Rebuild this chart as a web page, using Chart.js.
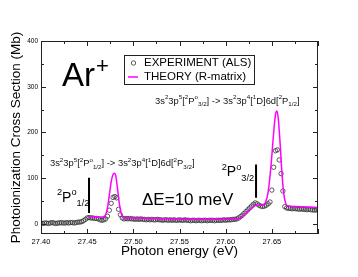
<!DOCTYPE html>
<html>
<head>
<meta charset="utf-8">
<script src="https://cdn.jsdelivr.net/npm/chart.js@4.4.1/dist/chart.umd.min.js"></script>
<style>
  body { margin: 0; background: #fff; }
  canvas { display: block; }
</style>
</head>
<body>
<canvas id="chart" width="358" height="277"></canvas>
<script>
// experiment (ALS): energy scan from 27.400 eV in 2 meV steps
const expStart = 27.400;
const expStep = 0.002;
const expCross = [
  2, 1, 2, 2, 1, 2, 3, 2, 1, 2, 2, 3, 2, 2, 3, 2, 3, 3, 2, 3,
  4, 4, 5, 7, 10, 13, 14, 13, 13, 12, 12, 11, 9, 8, 9, 11, 17, 30, 45, 58,
  60, 57, 32, 20, 13, 11, 12, 11, 12, 11, 11, 10, 11, 10, 11, 10, 10, 9, 10, 9,
  10, 9, 9, 10, 9, 9, 8, 9, 9, 8, 9, 8, 9, 8, 8, 9, 8, 8, 9, 8,
  8, 7, 8, 8, 7, 8, 8, 7, 8, 8, 7, 8, 8, 8, 7, 8, 8, 8, 8, 9,
  8, 9, 9, 9, 10, 10, 11, 13, 16, 19, 23, 27, 31, 35, 39, 43, 46, 44, 41, 39,
  38, 39, 41, 44, 48, 74, 124, 160, 162, 140, 110, 72, 38, 35, 34, 34, 33, 34, 33, 33,
  32, 33, 32, 32, 31, 32, 31, 31, 30, 31, 30
];

// theory (R-matrix)
const theoryEnergy = [
  27.452, 27.455, 27.460, 27.465, 27.468, 27.470, 27.472, 27.474, 27.476, 27.478,
  27.4795, 27.481, 27.483, 27.485, 27.487, 27.489, 27.492, 27.500, 27.520, 27.540,
  27.560, 27.580, 27.600, 27.612, 27.616, 27.620, 27.625, 27.629, 27.632, 27.636,
  27.640, 27.643, 27.646, 27.649, 27.652, 27.654, 27.6555, 27.657, 27.659, 27.661,
  27.663, 27.665, 27.667, 27.675, 27.690, 27.700
];
const theoryCross = [
  15, 16, 15, 15, 16, 20, 35, 63, 92, 108,
  111, 105, 75, 42, 22, 15, 13, 13, 12, 11,
  10, 10, 10, 11, 14, 20, 29, 36, 40, 41,
  41, 46, 70, 125, 200, 240, 247, 230, 175, 110,
  65, 45, 40, 38, 37, 36
];

const xTicks = [27.40, 27.425, 27.45, 27.475, 27.50, 27.525, 27.55, 27.575, 27.60, 27.625, 27.65, 27.675, 27.70];
const xLabels = ["27.40", "", "27.45", "", "27.50", "", "27.55", "", "27.60", "", "27.65", "", ""];
const yTicks = [0, 50, 100, 150, 200, 250, 300, 350, 400];
const yLabels = ["0", "", "100", "", "200", "", "300", "", "400"];

const FONT = '"Liberation Sans", Arial, Helvetica, sans-serif';

function richText(ctx, x, y, parts, size) {
  let cx = x;
  parts.forEach(([txt, kind]) => {
    let fs = size;
    let dy = 0;
    if (kind === "sup") { fs = size * 0.66; dy = -size * 0.45; }
    if (kind === "sub") { fs = size * 0.66; dy = size * 0.3; }
    ctx.font = `${fs}px ${FONT}`;
    ctx.fillText(txt, cx, y + dy);
    cx += ctx.measureText(txt).width;
  });
}

const upperLabel = [["3s"], ["2", "sup"], ["3p"], ["5", "sup"], ["["], ["2", "sup"], ["P"], ["o", "sup"], ["3/2", "sub"],
  ["] -> 3s"], ["2", "sup"], ["3p"], ["4", "sup"], ["["], ["1", "sup"], ["D]6d["], ["2", "sup"], ["P"], ["1/2", "sub"], ["]"]];
const lowerLabel = [["3s"], ["2", "sup"], ["3p"], ["5", "sup"], ["["], ["2", "sup"], ["P"], ["o", "sup"], ["1/2", "sub"],
  ["] -> 3s"], ["2", "sup"], ["3p"], ["4", "sup"], ["["], ["1", "sup"], ["D]6d["], ["2", "sup"], ["P"], ["3/2", "sub"], ["]"]];

const frameAndTicks = {
  id: "frameAndTicks",
  afterDatasetsDraw(chart) {
    const { ctx, chartArea: a, scales: { x, y } } = chart;
    ctx.save();
    ctx.strokeStyle = "#222";
    ctx.lineWidth = 1;
    ctx.strokeRect(a.left + 0.5, a.top + 0.5, a.right - a.left - 1, a.bottom - a.top - 1);
    ctx.beginPath();
    xTicks.forEach((v, i) => {
      const px = Math.round(x.getPixelForValue(v)) + 0.5;
      const len = i % 2 === 0 ? 5 : 3;
      ctx.moveTo(px, a.bottom); ctx.lineTo(px, a.bottom - len);
      ctx.moveTo(px, a.top); ctx.lineTo(px, a.top + len);
    });
    yTicks.forEach((v, i) => {
      const py = Math.round(y.getPixelForValue(v)) + 0.5;
      const len = i % 2 === 0 ? 5 : 3;
      ctx.moveTo(a.left, py); ctx.lineTo(a.left + len, py);
      ctx.moveTo(a.right, py); ctx.lineTo(a.right - len, py);
    });
    ctx.stroke();
    ctx.restore();
  }
};

const annotations = {
  id: "annotations",
  afterDraw(chart) {
    const { ctx, chartArea: a, scales: { x, y } } = chart;
    ctx.save();
    ctx.fillStyle = "#000";
    ctx.textBaseline = "alphabetic";

    // Ar+
    ctx.font = `33px ${FONT}`;
    const arX = x.getPixelForValue(27.4227);
    const arY = y.getPixelForValue(301);
    ctx.fillText("Ar", arX, arY);
    const arW = ctx.measureText("Ar").width;
    ctx.font = `22px ${FONT}`;
    ctx.fillText("+", arX + arW + 1, arY - 13);

    // transition labels
    ctx.fillStyle = "#111";
    richText(ctx, x.getPixelForValue(27.5235), y.getPixelForValue(263), upperLabel, 9.4);
    richText(ctx, x.getPixelForValue(27.4097), y.getPixelForValue(127), lowerLabel, 9.4);

    // fine-structure thresholds
    ctx.fillStyle = "#000";
    richText(ctx, x.getPixelForValue(27.4173), y.getPixelForValue(49), [["2", "sup"], ["P"], ["o", "sup"], ["1/2", "sub"]], 14);
    richText(ctx, x.getPixelForValue(27.5957), y.getPixelForValue(104), [["2", "sup"], ["P"], ["o", "sup"], ["3/2", "sub"]], 14);
    ctx.strokeStyle = "#000";
    ctx.lineWidth = 2;
    ctx.beginPath();
    ctx.moveTo(x.getPixelForValue(27.452), y.getPixelForValue(101));
    ctx.lineTo(x.getPixelForValue(27.452), y.getPixelForValue(24));
    ctx.moveTo(x.getPixelForValue(27.6329), y.getPixelForValue(130));
    ctx.lineTo(x.getPixelForValue(27.6329), y.getPixelForValue(57));
    ctx.stroke();

    // resolution
    ctx.font = `17px ${FONT}`;
    ctx.fillText("\u0394E=10 meV", x.getPixelForValue(27.5094), y.getPixelForValue(41));

    // legend
    const lx = a.left + 83;
    const ly = a.top + 14;
    ctx.lineWidth = 1;
    ctx.strokeStyle = "#222";
    ctx.strokeRect(lx + 0.5, ly + 0.5, 130, 29);
    ctx.strokeStyle = "#333";
    ctx.lineWidth = 0.8;
    ctx.beginPath();
    ctx.arc(lx + 9.5, ly + 8, 2.2, 0, Math.PI * 2);
    ctx.stroke();
    ctx.strokeStyle = "#ff00ff";
    ctx.lineWidth = 1.5;
    ctx.beginPath();
    ctx.moveTo(lx + 4, ly + 22);
    ctx.lineTo(lx + 14, ly + 22);
    ctx.stroke();
    ctx.fillStyle = "#000";
    ctx.font = `11.5px ${FONT}`;
    ctx.textBaseline = "middle";
    ctx.fillText("EXPERIMENT (ALS)", lx + 20, ly + 8);
    ctx.fillText("THEORY (R-matrix)", lx + 20, ly + 22);
    ctx.restore();
  }
};

const expData = expCross.map((v, i) => ({ x: expStart + i * expStep, y: v }));
const theoryData = theoryEnergy.map((e, i) => ({ x: e, y: theoryCross[i] }));

const config = {
  type: "scatter",
  data: {
    datasets: [
      {
        label: "THEORY (R-matrix)",
        data: theoryData,
        showLine: true,
        borderColor: "#ff00ff",
        borderWidth: 1.5,
        pointRadius: 0,
        cubicInterpolationMode: "monotone",
        order: 0,
      },
      {
        label: "EXPERIMENT (ALS)",
        data: expData,
        pointStyle: "circle",
        pointRadius: 2.2,
        borderWidth: 0.8,
        borderColor: "#333",
        backgroundColor: "rgba(0,0,0,0)",
        order: 1,
      },
    ],
  },
  options: {
    responsive: false,
    animation: false,
    layout: { padding: { top: 41, right: 40, left: 0, bottom: 0 } },
    plugins: { legend: { display: false }, tooltip: { enabled: false } },
    scales: {
      x: {
        type: "linear",
        min: 27.40,
        max: 27.70,
        grid: { display: false, drawTicks: false },
        border: { display: false },
        afterBuildTicks: (scale) => { scale.ticks = xTicks.map((v) => ({ value: v })); },
        afterFit: (scale) => { scale.height = 43; },
        ticks: {
          autoSkip: false,
          maxRotation: 0,
          padding: 3,
          color: "#000",
          font: { family: FONT, size: 7.5 },
          callback: (val, idx) => xLabels[idx],
        },
        title: {
          display: true,
          text: "Photon energy (eV)",
          color: "#000",
          font: { family: FONT, size: 13.5 },
          padding: { top: 0, bottom: 18 },
        },
      },
      y: {
        min: -22,
        max: 400,
        grid: { display: false, drawTicks: false },
        border: { display: false },
        afterBuildTicks: (scale) => { scale.ticks = yTicks.map((v) => ({ value: v })); },
        afterFit: (scale) => { scale.width = 41; },
        ticks: {
          padding: 3,
          color: "#000",
          font: { family: FONT, size: 6.5 },
          callback: (val, idx) => yLabels[idx],
        },
        title: {
          display: true,
          text: "Photoionization Cross Section (Mb)",
          color: "#000",
          font: { family: FONT, size: 13.5 },
          padding: { top: 8.4, bottom: 0 },
        },
      },
    },
  },
  plugins: [frameAndTicks, annotations],
};

new Chart(document.getElementById("chart"), config);
</script>
</body>
</html>
